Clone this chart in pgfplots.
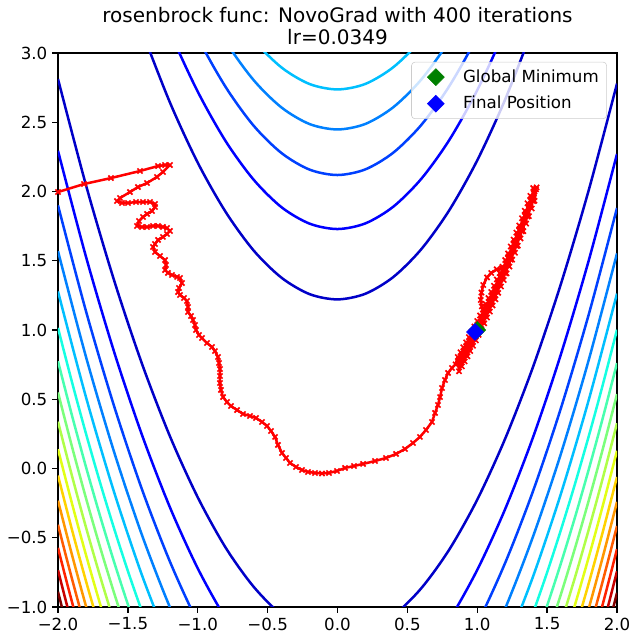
\documentclass[border=0pt]{standalone}
\usepackage{fontspec}
\setmainfont{DejaVu Sans}
\usepackage{pgfplots}
\pgfplotsset{compat=1.18}
\definecolor{j1}{rgb}{0,0,0.784}
\definecolor{j2}{rgb}{0,0,1}
\definecolor{j3}{rgb}{0,0.25,1}
\definecolor{j4}{rgb}{0,0.5,1}
\definecolor{j5}{rgb}{0,0.75,1}
\definecolor{j6}{rgb}{0.081,1,0.887}
\definecolor{j7}{rgb}{0.282,1,0.685}
\definecolor{j8}{rgb}{0.484,1,0.484}
\definecolor{j9}{rgb}{0.685,1,0.282}
\definecolor{j10}{rgb}{0.887,1,0.081}
\definecolor{j11}{rgb}{1,0.824,0}
\definecolor{j12}{rgb}{1,0.593,0}
\definecolor{j13}{rgb}{1,0.361,0}
\definecolor{j14}{rgb}{1,0.130,0}
\definecolor{j15}{rgb}{0.784,0,0}
\definecolor{j16}{rgb}{0.5,0,0}
\definecolor{mpgreen}{rgb}{0,0.5,0}
\begin{document}
\begin{tikzpicture}
\path[use as bounding box] (-41.76pt,-25.92pt) rectangle (415.44pt,437.04pt);
\begin{axis}[name=ax, at={(0,0)}, anchor=south west,
  width=402.48pt, height=398.88pt, scale only axis,
  xmin=-2, xmax=2, ymin=-1, ymax=3,
  xtick={-2,-1.5,-1,-0.5,0,0.5,1,1.5,2},
  ytick={-1,-0.5,0,0.5,1,1.5,2,2.5,3},
  xticklabels={−2.0,−1.5,−1.0,−0.5,0.0,0.5,1.0,1.5,2.0},
  yticklabels={−1.0,−0.5,0.0,0.5,1.0,1.5,2.0,2.5,3.0},
  xtick pos=bottom, ytick pos=left,
  tick align=outside, major tick length=4.2pt,
  tick style={black, line width=0.96pt},
  axis line style={line width=0.96pt},
  ticklabel style={font=\fontsize{12}{14}\selectfont},
  legend cell align=left,
  legend image code/.code={\path (0pt,0pt) (31pt,0pt); \draw[#1] plot coordinates {(13.6pt,0pt)};},
  legend style={at={(0.982,0.984)}, anchor=north east, draw=black!20, rounded corners=2.5pt,
    fill=white, fill opacity=0.8, draw opacity=1, text opacity=1, font=\fontsize{12}{14}\selectfont,
    row sep=4.5pt, inner xsep=3.7pt, inner ysep=3.5pt},
  contour/.style={line width=1.8pt, smooth, forget plot},
]
% level 150
\addplot[contour, j1] coordinates {(-1.4,3.161) (-1.2,2.645) (-1.0,2.208) (-0.8,1.852) (-0.6,1.574) (-0.4,1.377) (-0.2,1.259) (0,1.221) (0.2,1.262) (0.4,1.383) (0.6,1.584) (0.8,1.865) (1.0,2.225) (1.2,2.665) (1.4,3.184)};
\addplot[contour, j1] coordinates {(-2,2.812) (-1.8,2.047) (-1.6,1.363) (-1.4,0.759) (-1.2,0.235) (-1.0,-0.208) (-0.8,-0.572) (-0.6,-0.854) (-0.4,-1.057) (-0.2,-1.179) (0,-1.221) (0.2,-1.182) (0.4,-1.063) (0.6,-0.864) (0.8,-0.585) (1.0,-0.225) (1.2,0.216) (1.4,0.736) (1.6,1.337) (1.8,2.018) (2.0,2.779)};
% level 300
\addplot[contour, j2] coordinates {(-1.4,3.676) (-1.2,3.158) (-1.0,2.721) (-0.8,2.363) (-0.6,2.085) (-0.4,1.886) (-0.2,1.768) (0,1.729) (0.2,1.770) (0.4,1.891) (0.6,2.092) (0.8,2.372) (1.0,2.732) (1.2,3.172) (1.4,3.692)};
\addplot[contour, j2] coordinates {(-2,2.294) (-1.8,1.530) (-1.6,0.847) (-1.4,0.245) (-1.2,-0.278) (-1.0,-0.721) (-0.8,-1.083) (-0.6,-1.365)};
\addplot[contour, j2] coordinates {(0.6,-1.372) (0.8,-1.092) (1.0,-0.732) (1.2,-0.292) (1.4,0.228) (1.6,0.829) (1.8,1.510) (2.0,2.271)};
% level 450
\addplot[contour, j3] coordinates {(-1.2,3.550) (-1.0,3.112) (-0.8,2.754) (-0.6,2.475) (-0.4,2.277) (-0.2,2.158) (0,2.119) (0.2,2.160) (0.4,2.281) (0.6,2.481) (0.8,2.761) (1.0,3.121) (1.2,3.561)};
\addplot[contour, j3] coordinates {(-2,1.900) (-1.8,1.137) (-1.6,0.455) (-1.4,-0.148) (-1.2,-0.670) (-1.0,-1.112) (-0.8,-1.474)};
\addplot[contour, j3] coordinates {(0.8,-1.481) (1.0,-1.121) (1.2,-0.681) (1.4,-0.161) (1.6,0.440) (1.8,1.120) (2.0,1.881)};
% level 600
\addplot[contour, j4] coordinates {(-1.0,3.441) (-0.8,3.083) (-0.6,2.804) (-0.4,2.606) (-0.2,2.487) (0,2.448) (0.2,2.488) (0.4,2.609) (0.6,2.809) (0.8,3.090) (1.0,3.449)};
\addplot[contour, j4] coordinates {(-2,1.569) (-1.8,0.807) (-1.6,0.124) (-1.4,-0.478) (-1.2,-1.000) (-1.0,-1.441)};
\addplot[contour, j4] coordinates {(1.0,-1.450) (1.2,-1.010) (1.4,-0.489) (1.6,0.111) (1.8,0.792) (2.0,1.553)};
% level 750
\addplot[contour, j5] coordinates {(-0.8,3.373) (-0.6,3.094) (-0.4,2.895) (-0.2,2.776) (0,2.737) (0.2,2.777) (0.4,2.898) (0.6,3.098) (0.8,3.379)};
\addplot[contour, j5] coordinates {(-2,1.278) (-1.8,0.516) (-1.6,-0.166) (-1.4,-0.768) (-1.2,-1.290)};
\addplot[contour, j5] coordinates {(1.2,-1.299) (1.4,-0.778) (1.6,-0.178) (1.8,0.503) (2.0,1.263)};
% level 900
\addplot[contour, j6] coordinates {(-2,1.015) (-1.9,0.624) (-1.8,0.253) (-1.7,-0.098) (-1.6,-0.429) (-1.5,-0.740) (-1.4,-1.030) (-1.3,-1.301)};
\addplot[contour, j6] coordinates {(1.3,-1.310) (1.4,-1.040) (1.5,-0.750) (1.6,-0.439) (1.7,-0.109) (1.8,0.241) (1.9,0.611) (2.0,1.002)};
% level 1050
\addplot[contour, j7] coordinates {(-2,0.774) (-1.9,0.383) (-1.8,0.012) (-1.7,-0.339) (-1.6,-0.670) (-1.5,-0.981) (-1.4,-1.272)};
\addplot[contour, j7] coordinates {(1.4,-1.280) (1.5,-0.990) (1.6,-0.680) (1.7,-0.350) (1.8,0.001) (1.9,0.371) (2.0,0.761)};
% level 1200
\addplot[contour, j8] coordinates {(-2,0.549) (-1.9,0.158) (-1.8,-0.213) (-1.7,-0.564) (-1.6,-0.894) (-1.5,-1.205)};
\addplot[contour, j8] coordinates {(1.5,-1.214) (1.6,-0.904) (1.7,-0.573) (1.8,-0.223) (1.9,0.147) (2.0,0.537)};
% level 1350
\addplot[contour, j9] coordinates {(-2,0.338) (-1.9,-0.053) (-1.8,-0.424) (-1.7,-0.774) (-1.6,-1.105)};
\addplot[contour, j9] coordinates {(1.6,-1.114) (1.7,-0.784) (1.8,-0.433) (1.9,-0.063) (2.0,0.327)};
% level 1500
\addplot[contour, j10] coordinates {(-2,0.139) (-1.9,-0.252) (-1.8,-0.623) (-1.7,-0.974) (-1.6,-1.304)};
\addplot[contour, j10] coordinates {(1.6,-1.312) (1.7,-0.982) (1.8,-0.632) (1.9,-0.262) (2.0,0.128)};
% level 1650
\addplot[contour, j11] coordinates {(-2,-0.051) (-1.9,-0.442) (-1.8,-0.812) (-1.7,-1.163)};
\addplot[contour, j11] coordinates {(1.7,-1.171) (1.8,-0.821) (1.9,-0.451) (2.0,-0.061)};
% level 1800
\addplot[contour, j12] coordinates {(-2,-0.232) (-1.9,-0.623) (-1.8,-0.993) (-1.7,-1.344)};
\addplot[contour, j12] coordinates {(1.7,-1.352) (1.8,-1.002) (1.9,-0.632) (2.0,-0.241)};
% level 1950
\addplot[contour, j13] coordinates {(-2,-0.406) (-1.95,-0.604) (-1.9,-0.796) (-1.85,-0.984) (-1.8,-1.167)};
\addplot[contour, j13] coordinates {(1.8,-1.175) (1.85,-0.993) (1.9,-0.805) (1.95,-0.612) (2.0,-0.415)};
% level 2100
\addplot[contour, j14] coordinates {(-2,-0.573) (-1.95,-0.771) (-1.9,-0.963) (-1.85,-1.151)};
\addplot[contour, j14] coordinates {(1.85,-1.159) (1.9,-0.972) (1.95,-0.779) (2.0,-0.582)};
% level 2250
\addplot[contour, j15] coordinates {(-2,-0.734) (-1.95,-0.932) (-1.9,-1.125)};
\addplot[contour, j15] coordinates {(1.9,-1.133) (1.95,-0.940) (2.0,-0.742)};
% level 2400
\addplot[contour, j16] coordinates {(-2,-0.890) (-1.95,-1.088)};
\addplot[contour, j16] coordinates {(1.95,-1.096) (2.0,-0.898)};
% optimizer path
\addplot[red, line width=1.8pt, line join=round, mark=x, mark size=2.6pt, mark options={line width=1.2pt}, forget plot] coordinates {
(-2.000,1.996) (-1.814,2.054) (-1.621,2.097) (-1.413,2.148) (-1.284,2.184) (-1.234,2.191) (-1.199,2.191) (-1.249,2.141) (-1.292,2.105) (-1.363,2.061) (-1.428,2.032) (-1.485,1.996) (-1.556,1.953) (-1.578,1.931) (-1.542,1.917) (-1.499,1.917) (-1.442,1.924) (-1.392,1.924) (-1.342,1.924) (-1.306,1.910) (-1.306,1.888) (-1.327,1.859) (-1.363,1.838) (-1.392,1.816) (-1.420,1.787) (-1.435,1.751) (-1.399,1.744) (-1.363,1.744) (-1.320,1.751) (-1.284,1.751) (-1.249,1.744) (-1.220,1.736) (-1.199,1.715) (-1.220,1.693) (-1.249,1.672) (-1.284,1.650) (-1.306,1.621) (-1.320,1.599) (-1.306,1.563) (-1.270,1.534) (-1.234,1.505) (-1.227,1.469) (-1.234,1.433) (-1.213,1.412) (-1.184,1.397) (-1.148,1.383) (-1.127,1.375) (-1.113,1.339) (-1.134,1.303) (-1.141,1.274) (-1.127,1.253) (-1.098,1.231) (-1.077,1.209) (-1.070,1.166) (-1.070,1.130) (-1.048,1.101) (-1.034,1.072) (-1.020,1.036) (-1.013,1.000) (-0.991,0.964) (-0.970,0.942) (-0.934,0.906) (-0.898,0.877) (-0.877,0.848) (-0.855,0.805) (-0.848,0.762) (-0.841,0.718) (-0.841,0.668) (-0.841,0.617) (-0.834,0.567) (-0.819,0.516) (-0.791,0.480) (-0.762,0.451) (-0.719,0.422) (-0.676,0.394) (-0.626,0.379) (-0.583,0.365) (-0.540,0.336) (-0.504,0.307) (-0.476,0.271) (-0.447,0.228) (-0.426,0.170) (-0.397,0.112) (-0.368,0.076) (-0.340,0.040) (-0.297,0.011) (-0.254,-0.011) (-0.211,-0.025) (-0.161,-0.032) (-0.111,-0.036) (-0.061,-0.032) (-0.004,-0.018) (0.054,0.004) (0.118,0.018) (0.183,0.033) (0.268,0.054) (0.347,0.076) (0.419,0.105) (0.483,0.141) (0.540,0.184) (0.590,0.228) (0.633,0.278) (0.676,0.336) (0.698,0.401) (0.719,0.459) (0.734,0.516) (0.748,0.581) (0.769,0.639) (0.791,0.690) (0.819,0.726) (0.845,0.752)
(0.86,0.805) (0.87,0.702) (0.88,0.839) (0.89,0.737) (0.90,0.875) (0.91,0.773) (0.92,0.911) (0.93,0.810) (0.94,0.949) (0.95,0.848) (0.96,0.987) (0.97,0.886) (0.98,1.025) (0.99,0.925) (1.00,1.065) (1.01,0.965) (1.02,1.105) (1.03,1.006) (1.04,1.147) (1.05,1.048) (1.06,1.189) (1.07,1.090) (1.08,1.231) (1.09,1.133) (1.10,1.275) (1.11,1.177) (1.12,1.319) (1.13,1.222) (1.14,1.365) (1.15,1.268) (1.16,1.411) (1.17,1.314) (1.18,1.457) (1.19,1.361) (1.20,1.505) (1.21,1.409) (1.22,1.553) (1.23,1.458) (1.24,1.603) (1.25,1.508) (1.26,1.653) (1.27,1.558) (1.28,1.703) (1.29,1.609) (1.30,1.755) (1.31,1.661) (1.32,1.807) (1.33,1.714) (1.34,1.861) (1.35,1.768) (1.36,1.915) (1.37,1.822) (1.38,1.969) (1.39,1.877) (1.40,2.025) (1.41,1.933) (1.42,2.016) (1.405,1.985) (1.425,2.030) (1.41,2.000)
(1.40,1.930) (1.38,1.934) (1.36,1.820) (1.34,1.826) (1.32,1.712) (1.30,1.720) (1.28,1.608) (1.26,1.618) (1.24,1.508) (1.22,1.518) (1.20,1.410) (1.19,1.440) (1.175,1.446) (1.139,1.438) (1.100,1.412) (1.070,1.380) (1.043,1.325) (1.030,1.270) (1.025,1.217) (1.033,1.170) (1.043,1.121) (1.032,1.061) (1.005,1.022) (0.984,0.986)};
\addplot[only marks, mark=square*, mark size=4.3pt, mark options={rotate=45, fill=mpgreen, draw=mpgreen, fill opacity=1, draw opacity=1}] coordinates {(1,1)};
\addlegendentry{Global Minimum}
\addplot[only marks, mark=square*, mark size=4.3pt, mark options={rotate=45, fill=blue, draw=blue, fill opacity=1, draw opacity=1}] coordinates {(0.984,0.986)};
\addlegendentry{Final Position}
\end{axis}
\node[anchor=base, font=\fontsize{14.4}{17}\selectfont, inner sep=0pt] at ([yshift=6.3pt]ax.north) {lr=0.0349};
\node[anchor=base, font=\fontsize{14.4}{17}\selectfont, inner sep=0pt] at ([yshift=22.1pt]ax.north) {rosenbrock func: NovoGrad with 400 iterations};
\end{tikzpicture}
\end{document}
